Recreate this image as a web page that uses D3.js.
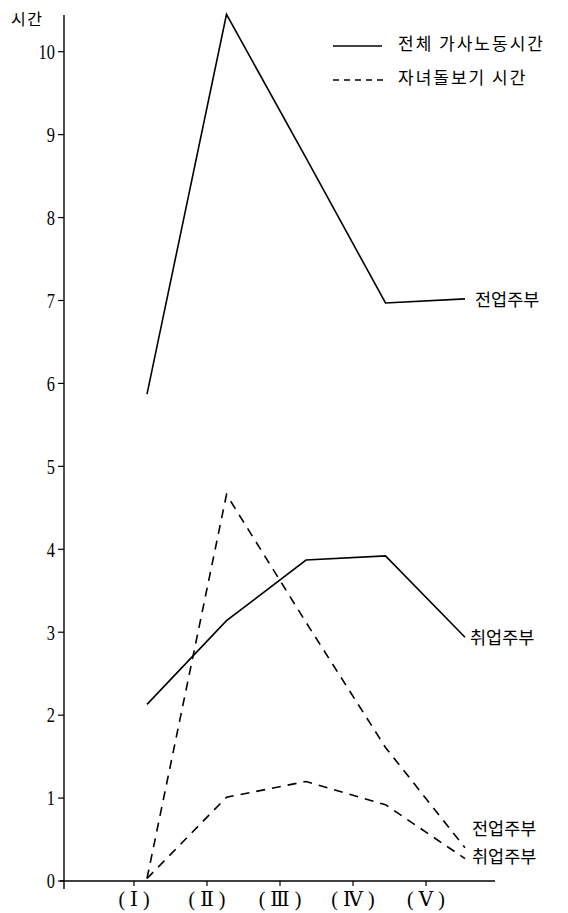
<!DOCTYPE html>
<html><head><meta charset="utf-8">
<script src="https://cdn.jsdelivr.net/npm/d3@7"></script>
<style>body{margin:0;background:#fff}svg{display:block}</style>
</head><body>
<script>
const categories = ["I","II","III","IV","V"];
const tickLabels = ["( Ⅰ )","( Ⅱ )","( Ⅲ )","( Ⅳ )","( Ⅴ )"];
const yTicks = [0,1,2,3,4,5,6,7,8,9,10];
const totalFulltime = [5.87, 10.45, 8.72, 6.97, 7.02];
const totalEmployed = [2.13, 3.14, 3.87, 3.92, 2.94];
const careFulltime = [0.03, 4.66, 3.12, 1.61, 0.4];
const careEmployed = [0.03, 1.01, 1.2, 0.92, 0.27];
const seriesNames = ["전업주부","취업주부","전업주부","취업주부"];
const legendNames = ["전체 가사노동시간","자녀돌보기 시간"];

const W = 568, H = 913;
const svg = d3.select("body").append("svg").attr("width", W).attr("height", H);

const y = d3.scaleLinear().domain([0, 10]).range([881, 51.7]);
const xData = d3.scalePoint().domain(categories).range([147, 465]);
const xTick = d3.scalePoint().domain(categories).range([134, 426]);
const axisX = 64;

const serif = "'Liberation Serif','DejaVu Serif',serif";
const kfont = "'Noto Sans CJK KR',sans-serif";

// y axis
svg.append("line").attr("x1", axisX).attr("x2", axisX).attr("y1", 15).attr("y2", 889)
  .attr("stroke", "#000").attr("stroke-width", 1.4);
const yg = svg.append("g");
yTicks.forEach(t => {
  yg.append("line").attr("x1", axisX - 6).attr("x2", axisX).attr("y1", y(t)).attr("y2", y(t))
    .attr("stroke", "#000").attr("stroke-width", 1.2);
  yg.append("text").attr("transform", `translate(${axisX - 9},${y(t)}) scale(0.78,1)`)
    .attr("dy", "0.35em")
    .attr("text-anchor", "end").attr("font-family", serif).attr("font-size", 21).text(t);
});
svg.append("text").attr("x", 11).attr("y", 19).attr("dy", "0.35em").attr("font-family", kfont)
  .attr("font-size", 16).attr("letter-spacing", 1.5).text("시간");

// x axis
svg.append("line").attr("x1", 60).attr("x2", 495).attr("y1", y(0)).attr("y2", y(0))
  .attr("stroke", "#000").attr("stroke-width", 1.4);
categories.forEach((c, i) => {
  svg.append("line").attr("x1", xTick(c)).attr("x2", xTick(c)).attr("y1", y(0)).attr("y2", y(0) + 5)
    .attr("stroke", "#000").attr("stroke-width", 1.2);
  svg.append("text").attr("x", xTick(c)).attr("y", 906).attr("text-anchor", "middle")
    .attr("font-family", serif).attr("font-size", 20).text(tickLabels[i]);
});

const line = d3.line().x((d, i) => xData(categories[i])).y(d => y(d));
const series = [
  {v: totalFulltime, dash: null},
  {v: totalEmployed, dash: null},
  {v: careFulltime, dash: "9,7"},
  {v: careEmployed, dash: "9,7"}
];
series.forEach(s => {
  svg.append("path").attr("d", line(s.v)).attr("fill", "none").attr("stroke", "#000")
    .attr("stroke-width", 1.6).attr("stroke-dasharray", s.dash);
});

// end labels
const labelPos = [
  {x: 475, y: y(totalFulltime[4]) + 1},
  {x: 470, y: y(totalEmployed[4]) + 1},
  {x: 472, y: 829},
  {x: 472, y: 857}
];
seriesNames.forEach((n, i) => {
  svg.append("text").attr("x", labelPos[i].x).attr("y", labelPos[i].y).attr("dy", "0.35em")
    .attr("font-family", kfont).attr("font-size", 17.5).text(n);
});

// legend
svg.append("line").attr("x1", 333).attr("x2", 382).attr("y1", 46).attr("y2", 46)
  .attr("stroke", "#000").attr("stroke-width", 1.6);
svg.append("line").attr("x1", 333).attr("x2", 386).attr("y1", 80).attr("y2", 80)
  .attr("stroke", "#000").attr("stroke-width", 1.6).attr("stroke-dasharray", "6,5");
legendNames.forEach((n, i) => {
  svg.append("text").attr("x", 398).attr("y", 44 + i * 34).attr("dy", "0.35em")
    .attr("font-family", kfont).attr("font-size", 17).attr("letter-spacing", 2).text(n);
});
</script>
</body></html>
